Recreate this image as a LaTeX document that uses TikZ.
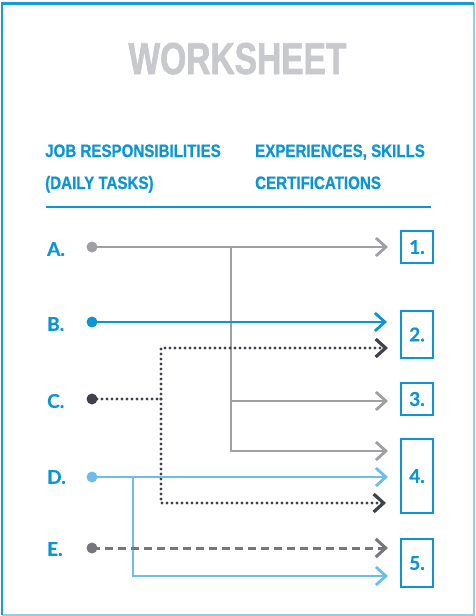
\documentclass[tikz,border=0pt]{standalone}
\usepackage{fontspec}
\usetikzlibrary{arrows.meta}
\newfontfamily\condfont[FakeStretch=0.75,FakeBold=1.5]{Liberation Sans Bold}
\newfontfamily\headfont[FakeStretch=0.84,FakeBold=0.8]{Liberation Sans Bold}
\newfontfamily\geofont[FakeBold=0.6]{Lato Bold}
\definecolor{mainblue}{HTML}{0B96D3}
\definecolor{frameblue}{HTML}{1A9BD7}
\definecolor{framelight}{HTML}{8DD0EE}
\definecolor{lineA}{HTML}{9FA0A4}
\definecolor{lineC}{HTML}{3F424A}
\definecolor{lineD}{HTML}{6CBEE8}
\definecolor{lineE}{HTML}{76777C}
\definecolor{titlegray}{HTML}{C8C9CD}
\tikzset{
  tip/.style={-{Straight Barb[length=10pt,width=18pt]}},
  conn/.style={line width=2.8pt, line join=miter},
  dotline/.style={line width=3.2pt, line cap=round, dash pattern=on 0pt off 5pt},
  dashline/.style={line width=3pt, dash pattern=on 8pt off 5pt},
  dotnode/.style={circle, inner sep=0pt, minimum size=11pt},
  letterlabel/.style={anchor=west, inner sep=0pt, text=mainblue, font=\geofont\fontsize{19}{19}\selectfont},
  headtext/.style={anchor=base west, inner sep=0pt, text=mainblue, font=\headfont\fontsize{18}{18}\selectfont},
  numbox/.style={draw=mainblue, line width=2.8pt, minimum width=32pt, inner sep=0pt, text=mainblue, font=\geofont\fontsize{19}{19}\selectfont},
}
\begin{document}
\begin{tikzpicture}[x=1pt,y=-1pt]
\useasboundingbox (0,0) rectangle (475,616);
% frame
\draw[framelight, line width=1.5pt] (2,3.5) -- (474,3.5) -- (474,615) -- (2,615);
\draw[frameblue, line width=2.5pt] (2,615) -- (2,3.5) -- (474,3.5);
% title
\node[anchor=base, inner sep=0pt, text=titlegray, font=\condfont\fontsize{44.7}{44.7}\selectfont] (title) at (237.5,74) {WORKSHEET};
% headers
\node[headtext] (h1) at (45,157) {JOB RESPONSIBILITIES};
\node[headtext] (h2) at (45,189) {(DAILY TASKS)};
\node[headtext] (h3) at (255,157) {EXPERIENCES, SKILLS};
\node[headtext] (h4) at (255,189) {CERTIFICATIONS};
\coordinate (ruleL) at (46,207);
\coordinate (ruleR) at (431,207);
\draw[mainblue, line width=2.2pt] (ruleL) -- (ruleR);
% letters
\node[letterlabel] (lA) at (47,249) {A.};
\node[letterlabel] (lB) at (47,324) {B.};
\node[letterlabel] (lC) at (47,401) {C.};
\node[letterlabel] (lD) at (47,477) {D.};
\node[letterlabel] (lE) at (47,549) {E.};
% dots
\node[dotnode, fill=lineA] (dA) at (92,247) {};
\node[dotnode, fill=mainblue] (dB) at (92,322) {};
\node[dotnode, fill=lineC] (dC) at (92,399) {};
\node[dotnode, fill=lineD] (dD) at (92,477) {};
\node[dotnode, fill=lineE] (dE) at (92,548) {};
% boxes
\node[numbox, minimum height=32pt] (b1) at (417,247) {1.};
\node[numbox, minimum height=47pt] (b2) at (417,334.5) {2.};
\node[numbox, minimum height=32pt] (b3) at (417,399) {3.};
\node[numbox, minimum height=74pt] (b4) at (417,476) {4.};
\node[numbox, minimum height=48pt] (b5) at (417,563) {5.};
% arrow end points
\coordinate (eA1) at (388,247);
\coordinate (eA3) at (388,401);
\coordinate (eA4) at (388,451);
\coordinate (eB2) at (387,322);
\coordinate (eC2) at (388,348);
\coordinate (eC4) at (386,503);
\coordinate (eD4) at (388,477);
\coordinate (eD5) at (388,576);
\coordinate (eE5) at (388,548);
% junctions
\coordinate (jA) at (231,247);
\coordinate (jC) at (161,399);
\coordinate (jD) at (133,477);
% A
\draw[conn, lineA, tip] (dA.center) -- (eA1);
\draw[conn, lineA, tip] (jA) |- (eA3);
\draw[conn, lineA, tip] (jA) |- (eA4);
% B
\draw[conn, mainblue, tip] (dB.center) -- (eB2);
% C
\draw[lineC, dotline] (dC.center) -- (jC);
\draw[lineC, dotline, tip] (jC) |- (eC2);
\draw[lineC, dotline, tip] (jC) |- (eC4);
% D
\draw[conn, lineD, tip] (dD.center) -- (eD4);
\draw[conn, lineD, tip] (jD) |- (eD5);
% E
\draw[lineE, dashline, tip] (dE.center) -- (eE5);
\end{tikzpicture}
\end{document}
